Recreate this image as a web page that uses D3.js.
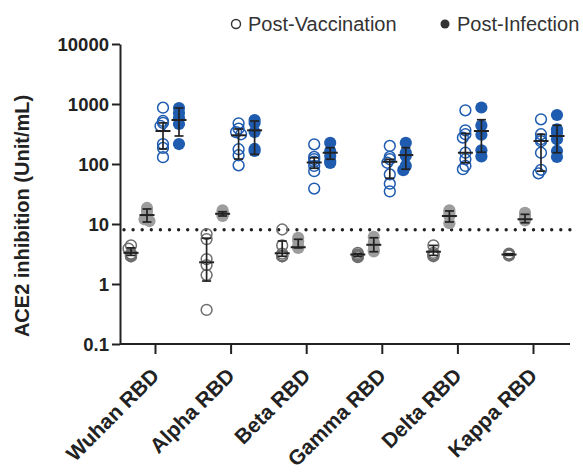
<!DOCTYPE html>
<html>
<head>
<meta charset="utf-8">
<script src="https://cdn.jsdelivr.net/npm/d3@7/dist/d3.min.js"></script>
<style>
  html, body { margin: 0; padding: 0; background: #fff; }
  svg { display: block; font-family: "Liberation Sans", Arial, sans-serif; }
</style>
</head>
<body>
<svg id="chart" width="583" height="472"></svg>
<script>
// ---------- data ----------
const categories = ["Wuhan RBD", "Alpha RBD", "Beta RBD", "Gamma RBD", "Delta RBD", "Kappa RBD"];
const yTickValues = [0.1, 1, 10, 100, 1000, 10000];
const yTickLabels = ["0.1", "1", "10", "100", "1000", "10000"];
const cutoff = 8;

// grey open (vaccination, low group)
const vaccBase = [
  [4.4, 3.9, 3.2, 3.1, 3.0, 2.9, 2.9],
  [6.8, 5.6, 2.6, 2.07, 1.41, 0.37],
  [8.1, 4.4, 3.2, 3.0, 2.9, 2.9],
  [3.3, 3.1, 3.0, 2.9, 2.8],
  [4.4, 3.3, 3.1, 3.0, 2.9],
  [3.2, 3.1, 3.1, 3.0, 3.0]
];
const vaccBaseMed = [3.3, 2.3, 3.25, 3.1, 3.45, 3.1];
const vaccBaseQ1  = [3.0, 1.12, 2.9, 2.9, 3.0, 3.0];
const vaccBaseQ3  = [4.0, 5.8, 5.2, 3.2, 4.4, 3.2];

// grey filled (infection, low group)
const infBase = [
  [18.5, 16.5, 14, 12, 11.2],
  [16.9, 15.8, 14.7, 14.1, 13.6],
  [5.9, 5.2, 4.3, 4.1, 4.0],
  [6.1, 4.9, 4.5, 3.7, 3.5],
  [16.9, 15.3, 13.6, 10.3],
  [15.4, 14.1, 12.6, 11.5]
];
const infBaseMed = [14.1, 14.8, 4.1, 4.5, 13.6, 12.0];
const infBaseQ1  = [10.8, 13.6, 4.0, 3.45, 10.8, 10.5];
const infBaseQ3  = [17.8, 16.0, 5.56, 5.9, 16.5, 14.5];

// blue open (post-vaccination)
const vaccPost = [
  [867, 521, 484, 430, 215, 185, 130],
  [477, 388, 341, 313, 176, 140, 95],
  [213, 131, 121, 109, 93, 76, 39],
  [200, 131, 120, 105, 67, 47, 35],
  [785, 364, 313, 276, 154, 120, 93, 82],
  [556, 313, 260, 240, 154, 80, 70]
];
const vaccPostMed = [355, 301, 106, 109, 154, 242];
const vaccPostQ1  = [178, 121, 85, 58, 105, 76];
const vaccPostQ3  = [484, 383, 127, 120, 322, 313];

// blue filled (post-infection)
const infPost = [
  [858, 708, 585, 464, 215],
  [541, 483, 341, 178, 165],
  [226, 165, 136, 112, 104],
  [226, 154, 136, 93, 79],
  [875, 438, 307, 169, 134],
  [656, 379, 332, 258, 165, 131]
];
const infPostMed = [541, 364, 154, 141, 355, 293];
const infPostQ1  = [293, 145, 120, 82, 157, 154];
const infPostQ3  = [858, 521, 187, 187, 547, 442];

const seriesNames = ["vaccBase", "infBase", "vaccPost", "infPost"];
const legendLabels = ["Post-Vaccination", "Post-Infection"];

// ---------- build table ----------
const blue = "#1f5cb0";
const seriesDefs = [
  {key: "vaccBase", pts: vaccBase, med: vaccBaseMed, q1: vaccBaseQ1, q3: vaccBaseQ3, open: true,  color: "#6e6e6e"},
  {key: "infBase",  pts: infBase,  med: infBaseMed,  q1: infBaseQ1,  q3: infBaseQ3,  open: false, color: "#9d9d9d"},
  {key: "vaccPost", pts: vaccPost, med: vaccPostMed, q1: vaccPostQ1, q3: vaccPostQ3, open: true,  color: blue},
  {key: "infPost",  pts: infPost,  med: infPostMed,  q1: infPostQ1,  q3: infPostQ3,  open: false, color: blue}
];

// ---------- layout ----------
const svg = d3.select("#chart");
const plotLeft = 120, plotRight = 570, plotTop = 44, plotBottom = 344;

const y = d3.scaleLog().domain([0.1, 10000]).range([plotBottom, plotTop]);
const x = d3.scalePoint().domain(categories).range([155, 533]);
const xSub = d3.scaleBand().domain(seriesNames).range([-32, 32]);

const ink = "#222";

// y axis
const yAxis = d3.axisLeft(y).tickValues(yTickValues)
  .tickFormat((d, i) => yTickLabels[i]).tickSize(8).tickSizeOuter(0);
const gy = svg.append("g").attr("transform", `translate(${plotLeft},0)`).call(yAxis);
gy.select(".domain").attr("stroke", ink).attr("stroke-width", 2);
gy.selectAll(".tick line").attr("stroke", ink).attr("stroke-width", 2);
gy.selectAll(".tick text").attr("fill", ink).attr("font-size", 18.5).attr("font-weight", "bold")
  .attr("x", -11).attr("dy", "0.35em");

// x axis
const xAxis = d3.axisBottom(x).tickSize(10).tickSizeOuter(0);
const gx = svg.append("g").attr("transform", `translate(0,${plotBottom})`).call(xAxis);
gx.select(".domain").attr("d", `M${plotLeft},0H${plotRight}`).attr("stroke", ink).attr("stroke-width", 2);
gx.selectAll(".tick line").attr("stroke", ink).attr("stroke-width", 2);
gx.selectAll(".tick text").attr("fill", ink).attr("font-size", 21).attr("font-weight", "bold")
  .attr("text-anchor", "end").attr("dy", 0).attr("y", 0)
  .attr("transform", "translate(5,33) rotate(-45)");

// y axis title
svg.append("text")
  .attr("transform", `translate(29,216) rotate(-90)`)
  .attr("text-anchor", "middle").attr("font-size", 20).attr("font-weight", "bold").attr("fill", ink)
  .text("ACE2 inhibition (Unit/mL)");

// cutoff dotted line
svg.append("line")
  .attr("x1", plotLeft + 4).attr("x2", plotRight)
  .attr("y1", y(cutoff)).attr("y2", y(cutoff))
  .attr("stroke", ink).attr("stroke-width", 3.4)
  .attr("stroke-linecap", "round").attr("stroke-dasharray", "0 9.1");

// slight dodge so heavily overlapping points spread a little
function dodge(values, r) {
  const placed = [];
  const offs = [0, -2.5, 2.5];
  return values.slice().sort((a, b) => b - a).map(v => {
    const py = y(v);
    let best = 0;
    for (const o of offs) {
      if (placed.every(p => Math.hypot(p.o - o, p.y - py) >= r * 0.7)) { best = o; break; }
    }
    placed.push({o: best, y: py});
    return {v, o: best};
  });
}

// points + error bars
const gData = svg.append("g");
seriesDefs.forEach(s => {
  categories.forEach((c, ci) => {
    const cx = x(c) + xSub(s.key) + xSub.bandwidth() / 2;
    const g = gData.append("g");
    const rr = s.open ? 5.4 : 6.1;
    const pts = dodge(s.pts[ci], rr);
    g.selectAll("circle").data(pts).enter().append("circle")
      .attr("cx", d => cx + d.o).attr("cy", d => y(d.v))
      .attr("r", rr)
      .attr("fill", s.open ? "none" : s.color)
      .attr("stroke", s.color).attr("stroke-width", s.open ? 1.5 : 0);
    // error bar (median with interquartile range)
    const lw = 1.7;
    g.append("line").attr("x1", cx).attr("x2", cx)
      .attr("y1", y(s.q1[ci])).attr("y2", y(s.q3[ci])).attr("stroke", ink).attr("stroke-width", lw);
    [s.q1[ci], s.q3[ci]].forEach(v => {
      g.append("line").attr("x1", cx - 4.5).attr("x2", cx + 4.5)
        .attr("y1", y(v)).attr("y2", y(v)).attr("stroke", ink).attr("stroke-width", lw);
    });
    g.append("line").attr("x1", cx - 7.5).attr("x2", cx + 7.5)
      .attr("y1", y(s.med[ci])).attr("y2", y(s.med[ci])).attr("stroke", ink).attr("stroke-width", 2);
  });
});

// legend
const leg = svg.append("g").attr("font-size", 20);
leg.append("circle").attr("cx", 236).attr("cy", 24).attr("r", 4.5)
  .attr("fill", "none").attr("stroke", "#333").attr("stroke-width", 1.4);
leg.append("text").attr("x", 248).attr("y", 31).attr("fill", "#333").text(legendLabels[0]);
leg.append("circle").attr("cx", 445).attr("cy", 24).attr("r", 4.5).attr("fill", "#333");
leg.append("text").attr("x", 457).attr("y", 31).attr("fill", "#333").text(legendLabels[1]);
</script>
</body>
</html>
